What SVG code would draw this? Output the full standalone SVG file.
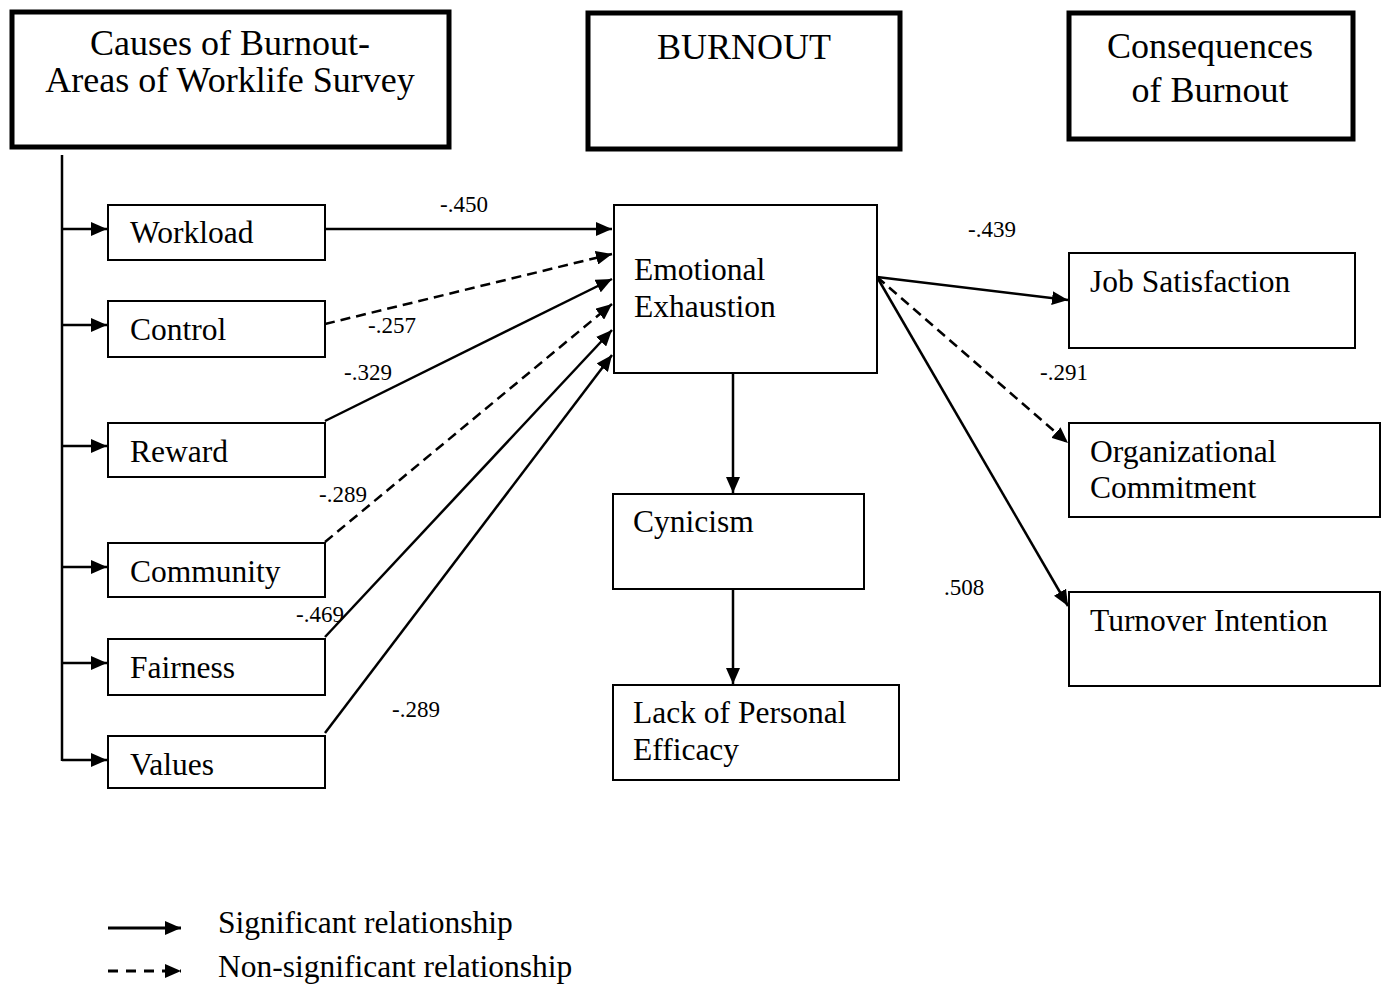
<svg xmlns="http://www.w3.org/2000/svg" width="1387" height="997" viewBox="0 0 1387 997">
<style>
text{font-family:"Liberation Serif","Times New Roman",serif;fill:#000}
.title{font-size:36px;text-anchor:middle}
.lbl{font-size:31.5px}
.num{font-size:23px}
.hdr{fill:#fff;stroke:#000;stroke-width:5}
.box{fill:#fff;stroke:#000;stroke-width:2}
.c{fill:none;stroke:#000;stroke-width:2.5;marker-end:url(#ah)}
.d{stroke-dasharray:10 6}
.plain{fill:none;stroke:#000;stroke-width:2.5}
</style>
<defs>
<marker id="ah" markerUnits="userSpaceOnUse" markerWidth="16" markerHeight="14" refX="16" refY="7" orient="auto">
<path d="M0,0 L16,7 L0,14 z" fill="#000"/>
</marker>
</defs>
<rect width="1387" height="997" fill="#fff"/>
<g id="connectors">
<line class="plain" x1="62" y1="155" x2="62" y2="761"/>
<line class="c" x1="62" y1="229" x2="107" y2="229"/>
<line class="c" x1="62" y1="325" x2="107" y2="325"/>
<line class="c" x1="62" y1="446" x2="107" y2="446"/>
<line class="c" x1="62" y1="567" x2="107" y2="567"/>
<line class="c" x1="62" y1="663" x2="107" y2="663"/>
<line class="c" x1="62" y1="760" x2="107" y2="760"/>
<line class="c" x1="325" y1="229" x2="612" y2="229"/>
<line class="c d" x1="325" y1="324" x2="612" y2="254"/>
<line class="c" x1="325" y1="421" x2="612" y2="279"/>
<line class="c d" x1="325" y1="542" x2="612" y2="304"/>
<line class="c" x1="325" y1="637" x2="612" y2="330"/>
<line class="c" x1="325" y1="733" x2="612" y2="355"/>
<line class="c" x1="877" y1="277" x2="1068" y2="300"/>
<line class="c d" x1="877" y1="277" x2="1068" y2="443"/>
<line class="c" x1="877" y1="277" x2="1068" y2="606"/>
<line class="c" x1="733" y1="373" x2="733" y2="493"/>
<line class="c" x1="733" y1="589" x2="733" y2="684"/>
</g>
<g id="edge-labels">
<text class="num" x="440" y="212">-.450</text>
<text class="num" x="368" y="333">-.257</text>
<text class="num" x="344" y="380">-.329</text>
<text class="num" x="319" y="502">-.289</text>
<text class="num" x="296" y="622">-.469</text>
<text class="num" x="392" y="717">-.289</text>
<text class="num" x="968" y="237">-.439</text>
<text class="num" x="1040" y="380">-.291</text>
<text class="num" x="944" y="595">.508</text>
</g>
<g id="causes">
<rect class="hdr" x="12" y="12" width="437" height="135"/>
<text class="title" x="230" y="55">Causes of Burnout-</text>
<text class="title" x="230" y="92">Areas of Worklife Survey</text>
</g>
<g id="burnout">
<rect class="hdr" x="588" y="13" width="312" height="136"/>
<text class="title" x="744" y="59">BURNOUT</text>
</g>
<g id="consequences">
<rect class="hdr" x="1069" y="13" width="284" height="126"/>
<text class="title" x="1210" y="58">Consequences</text>
<text class="title" x="1210" y="102">of Burnout</text>
</g>
<g id="workload"><rect class="box" x="108" y="205" width="217" height="55"/><text class="lbl" x="130" y="243">Workload</text></g>
<g id="control"><rect class="box" x="108" y="301" width="217" height="56"/><text class="lbl" x="130" y="340">Control</text></g>
<g id="reward"><rect class="box" x="108" y="423" width="217" height="54"/><text class="lbl" x="130" y="462">Reward</text></g>
<g id="community"><rect class="box" x="108" y="543" width="217" height="54"/><text class="lbl" x="130" y="582">Community</text></g>
<g id="fairness"><rect class="box" x="108" y="639" width="217" height="56"/><text class="lbl" x="130" y="678">Fairness</text></g>
<g id="values"><rect class="box" x="108" y="736" width="217" height="52"/><text class="lbl" x="130" y="775">Values</text></g>
<g id="emotional-exhaustion"><rect class="box" x="614" y="205" width="263" height="168"/><text class="lbl" x="634" y="280">Emotional</text><text class="lbl" x="634" y="317">Exhaustion</text></g>
<g id="cynicism"><rect class="box" x="613" y="494" width="251" height="95"/><text class="lbl" x="633" y="532">Cynicism</text></g>
<g id="lack-of-personal-efficacy"><rect class="box" x="613" y="685" width="286" height="95"/><text class="lbl" x="633" y="723">Lack of Personal</text><text class="lbl" x="633" y="760">Efficacy</text></g>
<g id="job-satisfaction"><rect class="box" x="1069" y="253" width="286" height="95"/><text class="lbl" x="1090" y="292">Job Satisfaction</text></g>
<g id="organizational-commitment"><rect class="box" x="1069" y="423" width="311" height="94"/><text class="lbl" x="1090" y="462">Organizational</text><text class="lbl" x="1090" y="498">Commitment</text></g>
<g id="turnover-intention"><rect class="box" x="1069" y="592" width="311" height="94"/><text class="lbl" x="1090" y="631">Turnover Intention</text></g>
<g id="legend">
<line x1="108" y1="928" x2="181" y2="928" stroke="#000" stroke-width="3" marker-end="url(#ah)"/>
<line x1="108" y1="971" x2="181" y2="971" stroke="#000" stroke-width="3" stroke-dasharray="10 8" marker-end="url(#ah)"/>
<text class="lbl" x="218" y="933">Significant relationship</text>
<text class="lbl" x="218" y="977">Non-significant relationship</text>
</g>
</svg>
